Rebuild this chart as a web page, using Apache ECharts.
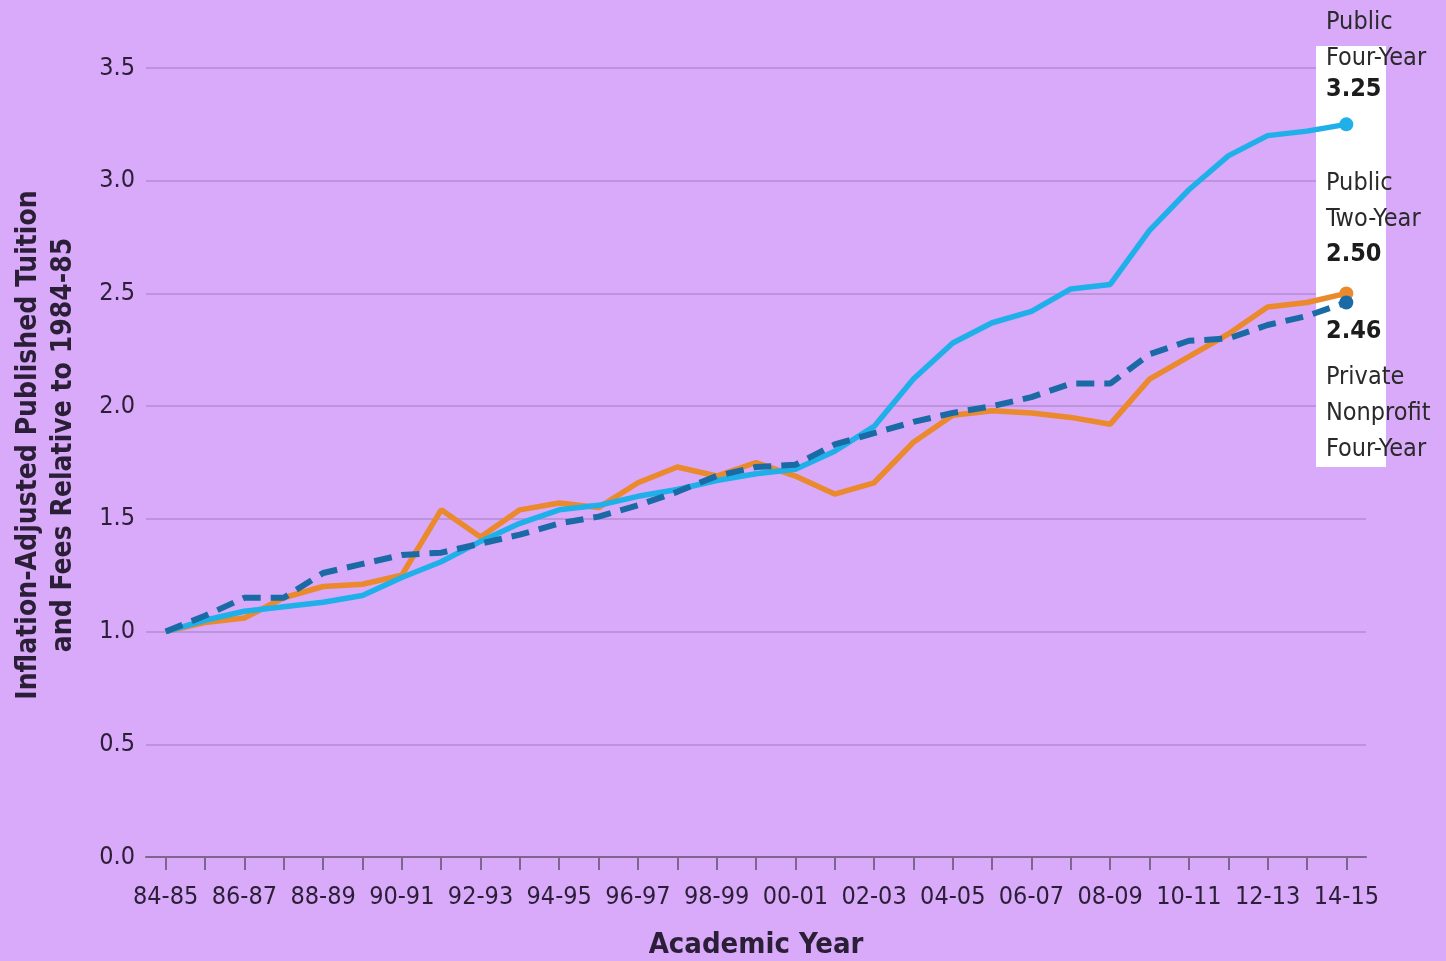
<!DOCTYPE html>
<html>
<head>
<meta charset="utf-8">
<script src="https://cdn.jsdelivr.net/npm/echarts@6/dist/echarts.min.js"></script>
<style>
html,body{margin:0;padding:0;background:#d8aaf9;}
#chart{width:1446px;height:961px;}
</style>
</head>
<body>
<div id="chart"></div>
<script>
var years = ['84-85','85-86','86-87','87-88','88-89','89-90','90-91','91-92','92-93','93-94','94-95','95-96','96-97','97-98','98-99','99-00','00-01','01-02','02-03','03-04','04-05','05-06','06-07','07-08','08-09','09-10','10-11','11-12','12-13','13-14','14-15'];
var publicFourYear = [1.00,1.05,1.09,1.11,1.13,1.16,1.24,1.31,1.40,1.48,1.54,1.56,1.60,1.63,1.67,1.70,1.72,1.80,1.91,2.12,2.28,2.37,2.42,2.52,2.54,2.78,2.96,3.11,3.20,3.22,3.25];
var publicTwoYear = [1.00,1.04,1.06,1.15,1.20,1.21,1.25,1.54,1.42,1.54,1.57,1.55,1.66,1.73,1.69,1.75,1.69,1.61,1.66,1.84,1.96,1.98,1.97,1.95,1.92,2.12,2.22,2.32,2.44,2.46,2.50];
var privateFourYear = [1.00,1.07,1.15,1.15,1.26,1.30,1.34,1.35,1.39,1.43,1.48,1.51,1.56,1.62,1.69,1.73,1.74,1.83,1.88,1.93,1.97,2.00,2.04,2.10,2.10,2.23,2.29,2.30,2.36,2.40,2.46];
var yTicks = [0,0.5,1.0,1.5,2.0,2.5,3.0,3.5];

var FONT = "'Liberation Sans Narrow','DejaVu Sans Condensed',Arial,sans-serif";
var TXT = '#2b1f38';

function withEndDot(arr, color){
  return arr.map(function(v,i){
    if(i===arr.length-1){
      return {value:v, symbol:'circle', symbolSize:14, itemStyle:{color:color}};
    }
    return v;
  });
}

var chart = echarts.init(document.getElementById('chart'));
var last = years.length-1;
var option = {
  backgroundColor:'#d8aaf9',
  animation:false,
  grid:{left:146,right:80,top:68,bottom:104,containLabel:false,outerBoundsMode:'none'},
  xAxis:{
    type:'category',
    data:years,
    boundaryGap:true,
    name:'Academic Year',
    nameLocation:'middle',
    nameGap:74,
    nameTextStyle:{fontFamily:FONT,fontWeight:'bold',fontSize:29,color:TXT},
    axisLine:{show:true,lineStyle:{color:'#7d6590',width:2}},
    axisTick:{show:true,alignWithLabel:true,length:13,lineStyle:{color:'#7d6590',width:2},interval:0},
    axisLabel:{interval:1,margin:28,fontFamily:FONT,fontSize:25,color:TXT},
    splitLine:{show:false}
  },
  yAxis:{
    type:'value',
    min:0,max:3.5,interval:0.5,
    axisLine:{show:false},
    axisTick:{show:false},
    axisLabel:{margin:11,fontFamily:FONT,fontSize:25,color:TXT,formatter:function(v){return v.toFixed(1);}},
    splitLine:{lineStyle:{color:'#b48bd4',width:1.5}}
  },
  graphic:[
    {type:'rect',left:1316,top:46,z:2,shape:{width:70,height:421},style:{fill:'#ffffff'}},
    {type:'text',rotation:Math.PI/2,x:46,y:445,style:{
      text:'Inflation-Adjusted Published Tuition\nand Fees Relative to 1984-85',
      font:'bold 28px '+FONT,fill:TXT,align:'center',verticalAlign:'middle',lineHeight:35}},
    {type:'text',left:1326,top:4,z:6,style:{text:'Public\nFour-Year',font:'25px '+FONT,fill:'#2a2a2a',lineHeight:36}},
    {type:'text',left:1326,top:77,z:6,style:{text:publicFourYear[last].toFixed(2),font:'bold 25px '+FONT,fill:'#1c1c1c'}},
    {type:'text',left:1326,top:165,z:6,style:{text:'Public\nTwo-Year',font:'25px '+FONT,fill:'#2a2a2a',lineHeight:36}},
    {type:'text',left:1326,top:242,z:6,style:{text:publicTwoYear[last].toFixed(2),font:'bold 25px '+FONT,fill:'#1c1c1c'}},
    {type:'text',left:1326,top:319,z:6,style:{text:privateFourYear[last].toFixed(2),font:'bold 25px '+FONT,fill:'#1c1c1c'}},
    {type:'text',left:1326,top:359,z:6,style:{text:'Private\nNonprofit\nFour-Year',font:'25px '+FONT,fill:'#2a2a2a',lineHeight:36}}
  ],
  series:[
    {name:'Public Two-Year',type:'line',data:withEndDot(publicTwoYear,'#ea8a2c'),symbol:'none',
     lineStyle:{color:'#ea8a2c',width:5.5},itemStyle:{color:'#ea8a2c'},z:3},
    {name:'Public Four-Year',type:'line',data:withEndDot(publicFourYear,'#1fb0ea'),symbol:'none',
     lineStyle:{color:'#1fb0ea',width:5.5},itemStyle:{color:'#1fb0ea'},z:4},
    {name:'Private Nonprofit Four-Year',type:'line',data:withEndDot(privateFourYear,'#1a6aa5'),symbol:'none',
     lineStyle:{color:'#1a6aa5',width:6,type:[18,10]},itemStyle:{color:'#1a6aa5'},z:5}
  ]
};
chart.setOption(option);
</script>
</body>
</html>
